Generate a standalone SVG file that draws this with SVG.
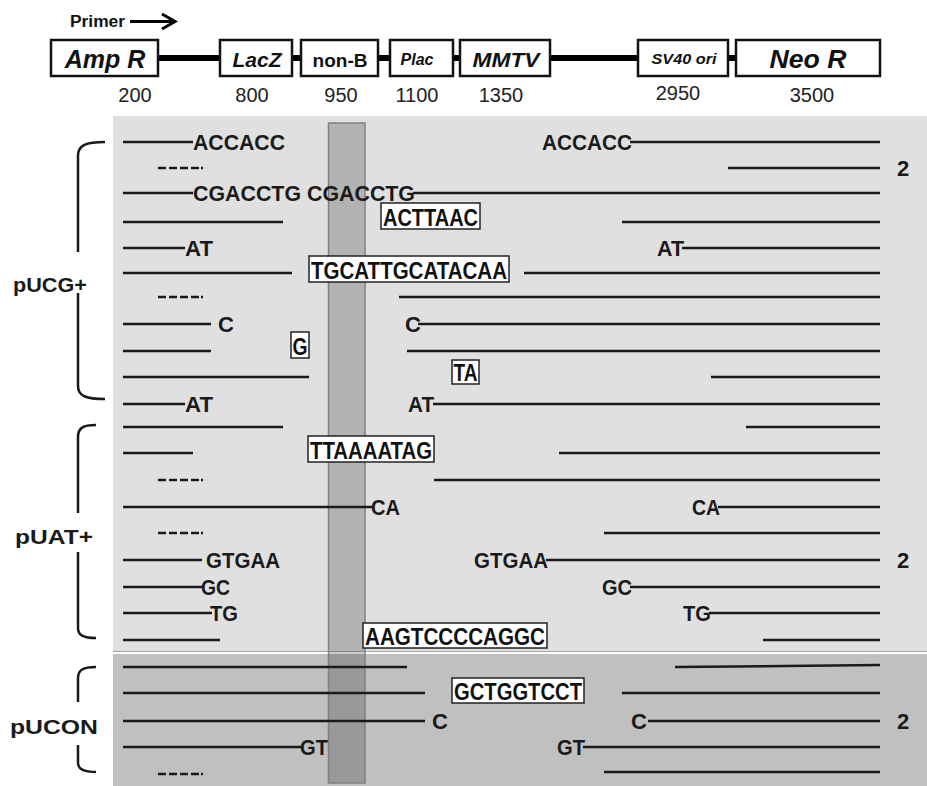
<svg xmlns="http://www.w3.org/2000/svg" width="927" height="786" viewBox="0 0 927 786">
<style>
.bx{fill:#fff;stroke:#111;stroke-width:2.5}
.ln{stroke:#1a1a1a;stroke-width:2.5;fill:none}
.th{stroke:#000;stroke-width:6;fill:none}
.sq{font-family:"Liberation Sans",Arial,sans-serif;font-weight:bold;font-size:22px;fill:#1a1a1a}
.bt{font-family:"Liberation Sans",Arial,sans-serif;font-weight:bold;font-size:23px;fill:#111}
.sb{fill:#fff;stroke:#222;stroke-width:1.5}
.num{font-family:"Liberation Sans",Arial,sans-serif;font-size:20px;fill:#222;text-anchor:middle}
.hl{font-family:"Liberation Sans",Arial,sans-serif;font-weight:bold;font-style:italic;fill:#111;text-anchor:middle}
.grp{font-family:"Liberation Sans",Arial,sans-serif;font-weight:bold;font-size:21px;fill:#1a1a1a;text-anchor:middle}
.br{stroke:#1a1a1a;stroke-width:2.5;fill:none}
</style>
<rect width="927" height="786" fill="#fff"/>
<!-- panels -->
<rect x="113" y="116" width="814" height="535" fill="#e0e0e0"/>
<line x1="113" y1="651.5" x2="927" y2="651.5" stroke="#a8a8a8" stroke-width="1"/>
<rect x="113" y="654" width="814" height="132" fill="#c0c0c0"/>
<rect x="328.5" y="123" width="36.5" height="660" fill="#000" fill-opacity="0.2" stroke="#808080" stroke-width="1.5"/>

<!-- header -->
<g id="primer">
<text x="70" y="27" font-family="Liberation Sans,Arial,sans-serif" font-weight="bold" font-size="16" fill="#111" textLength="55" lengthAdjust="spacingAndGlyphs">Primer</text>
<line x1="130" y1="21.5" x2="172" y2="21.5" stroke="#000" stroke-width="3"/>
<polyline points="162,14 175,21.5 162,29" stroke="#000" stroke-width="3" fill="none"/>
</g>
<g id="connectors">
<line class="th" x1="158" y1="58" x2="220" y2="58"/>
<line class="th" x1="292" y1="58" x2="301" y2="58"/>
<line class="th" x1="378" y1="58" x2="390" y2="58"/>
<line class="th" x1="453" y1="58" x2="460" y2="58"/>
<line class="th" x1="550" y1="58" x2="638" y2="58"/>
<line class="th" x1="728" y1="58" x2="736" y2="58"/>
</g>
<g id="ampR"><rect class="bx" x="51" y="40" width="107" height="36"/><text class="hl" x="105" y="68" font-size="25">Amp R</text><text class="num" x="135" y="102">200</text></g>
<g id="lacZ"><rect class="bx" x="220" y="40" width="72" height="36"/><text class="hl" x="257" y="67" font-size="21">LacZ</text><text class="num" x="252" y="102">800</text></g>
<g id="nonB"><rect class="bx" x="301" y="40" width="77" height="36"/><text x="340" y="67" font-family="Liberation Sans,Arial,sans-serif" font-weight="bold" font-size="19" fill="#111" text-anchor="middle">non-B</text><text class="num" x="341" y="102">950</text></g>
<g id="plac"><rect class="bx" x="390" y="40" width="63" height="36"/><text class="hl" x="417" y="65" font-size="16">Plac</text><text class="num" x="417" y="102">1100</text></g>
<g id="mmtv"><rect class="bx" x="460" y="40" width="90" height="36"/><text class="hl" x="506" y="67" font-size="20" textLength="67" lengthAdjust="spacingAndGlyphs">MMTV</text><text class="num" x="501" y="102">1350</text></g>
<g id="sv40"><rect class="bx" x="638" y="40" width="90" height="36"/><text class="hl" x="684" y="64" font-size="15" textLength="65" lengthAdjust="spacingAndGlyphs">SV40 ori</text><text class="num" x="678" y="100">2950</text></g>
<g id="neoR"><rect class="bx" x="736" y="40" width="144" height="36"/><text class="hl" x="808" y="68" font-size="25" textLength="77" lengthAdjust="spacingAndGlyphs">Neo R</text><text class="num" x="812" y="102">3500</text></g>

<!-- brackets -->
<g id="pUCG">
<path class="br" d="M105,142 C86,142 78,145 78,156 V252 M78,293 V386 C78,396 86,399 105,399"/>
<text class="grp" x="50" y="292" textLength="74" lengthAdjust="spacingAndGlyphs">pUCG+</text>
</g>
<g id="pUAT">
<path class="br" d="M96,425 C83,425 78,428 78,437 V513 M78,552 V628 C78,635 83,638 96,638"/>
<text class="grp" x="54" y="544" textLength="78" lengthAdjust="spacingAndGlyphs">pUAT+</text>
</g>
<g id="pUCON">
<path class="br" d="M96,667 C83,667 78,670 78,678 V702 M78,745 V763 C78,769 83,772 96,772"/>
<text class="grp" x="54" y="734" textLength="88" lengthAdjust="spacingAndGlyphs">pUCON</text>
</g>

<!-- rows -->
<g id="row1"><line class="ln" x1="123" y1="142" x2="193" y2="142"/><text class="sq" x="193" y="150" textLength="92" lengthAdjust="spacingAndGlyphs">ACCACC</text><text class="sq" x="632" y="150" text-anchor="end" textLength="90" lengthAdjust="spacingAndGlyphs">ACCACC</text><line class="ln" x1="630" y1="142" x2="880" y2="142"/></g>
<g id="row2"><path class="ln" d="M158,168H166M169,168H177M180,168H188M191,168H199M201,168H203"/><line class="ln" x1="728" y1="168" x2="880" y2="168"/><text class="sq" x="897" y="176" font-size="19">2</text></g>
<g id="row3"><line class="ln" x1="123" y1="193" x2="193" y2="193"/><text class="sq" x="193" y="201" textLength="222" lengthAdjust="spacingAndGlyphs">CGACCTG CGACCTG</text><line class="ln" x1="413" y1="193" x2="880" y2="193"/></g>
<g id="row4"><line class="ln" x1="123" y1="222" x2="283" y2="222"/><rect class="sb" x="381" y="203" width="99" height="26"/><text class="bt" x="430.5" y="226" text-anchor="middle" textLength="95" lengthAdjust="spacingAndGlyphs">ACTTAAC</text><line class="ln" x1="622" y1="222" x2="880" y2="222"/></g>
<g id="row5"><line class="ln" x1="123" y1="248" x2="185" y2="248"/><text class="sq" x="185" y="256" textLength="28" lengthAdjust="spacingAndGlyphs">AT</text><text class="sq" x="684" y="256" text-anchor="end" textLength="27" lengthAdjust="spacingAndGlyphs">AT</text><line class="ln" x1="682" y1="248" x2="880" y2="248"/></g>
<g id="row6"><line class="ln" x1="123" y1="273" x2="292" y2="273"/><rect class="sb" x="309" y="256" width="200" height="26"/><text class="bt" x="409" y="279" text-anchor="middle" textLength="196" lengthAdjust="spacingAndGlyphs">TGCATTGCATACAA</text><line class="ln" x1="524" y1="273" x2="880" y2="273"/></g>
<g id="row7"><path class="ln" d="M158,297H166M169,297H177M180,297H188M191,297H199M201,297H203"/><line class="ln" x1="399" y1="297" x2="880" y2="297"/></g>
<g id="row8"><line class="ln" x1="123" y1="324" x2="211" y2="324"/><text class="sq" x="218" y="332">C</text><text class="sq" x="405" y="332">C</text><line class="ln" x1="418" y1="324" x2="880" y2="324"/></g>
<g id="row9"><line class="ln" x1="123" y1="351" x2="211" y2="351"/><rect class="sb" x="291" y="332" width="18" height="26"/><text class="bt" x="300" y="355" text-anchor="middle" textLength="15" lengthAdjust="spacingAndGlyphs">G</text><line class="ln" x1="407" y1="351" x2="880" y2="351"/></g>
<g id="row10"><line class="ln" x1="123" y1="377" x2="309" y2="377"/><rect class="sb" x="452" y="360" width="27" height="24"/><text class="bt" x="465.5" y="381" text-anchor="middle" textLength="24" lengthAdjust="spacingAndGlyphs">TA</text><line class="ln" x1="711" y1="377" x2="880" y2="377"/></g>
<g id="row11"><line class="ln" x1="123" y1="404" x2="185" y2="404"/><text class="sq" x="185" y="412" textLength="28" lengthAdjust="spacingAndGlyphs">AT</text><text class="sq" x="408" y="412" textLength="26" lengthAdjust="spacingAndGlyphs">AT</text><line class="ln" x1="433" y1="404" x2="880" y2="404"/></g>
<g id="row12"><line class="ln" x1="123" y1="427" x2="283" y2="427"/><line class="ln" x1="746" y1="427" x2="880" y2="427"/></g>
<g id="row13"><line class="ln" x1="123" y1="453" x2="193" y2="453"/><rect class="sb" x="308" y="436" width="126" height="26"/><text class="bt" x="371" y="459" text-anchor="middle" textLength="122" lengthAdjust="spacingAndGlyphs">TTAAAATAG</text><line class="ln" x1="559" y1="453" x2="880" y2="453"/></g>
<g id="row14"><path class="ln" d="M158,480H166M169,480H177M180,480H188M191,480H199M201,480H203"/><line class="ln" x1="434" y1="480" x2="880" y2="480"/></g>
<g id="row15"><line class="ln" x1="123" y1="507" x2="372" y2="507"/><text class="sq" x="371" y="515" textLength="29" lengthAdjust="spacingAndGlyphs">CA</text><text class="sq" x="720" y="515" text-anchor="end" textLength="28" lengthAdjust="spacingAndGlyphs">CA</text><line class="ln" x1="718" y1="507" x2="880" y2="507"/></g>
<g id="row16"><path class="ln" d="M158,533H166M169,533H177M180,533H188M191,533H199M201,533H203"/><line class="ln" x1="604" y1="533" x2="880" y2="533"/></g>
<g id="row17"><line class="ln" x1="123" y1="560" x2="202" y2="560"/><text class="sq" x="206" y="568" textLength="74" lengthAdjust="spacingAndGlyphs">GTGAA</text><text class="sq" x="548" y="568" text-anchor="end" textLength="74" lengthAdjust="spacingAndGlyphs">GTGAA</text><line class="ln" x1="546" y1="560" x2="880" y2="560"/><text class="sq" x="897" y="568" font-size="19">2</text></g>
<g id="row18"><line class="ln" x1="123" y1="587" x2="203" y2="587"/><text class="sq" x="201" y="595" textLength="29" lengthAdjust="spacingAndGlyphs">GC</text><text class="sq" x="632" y="595" text-anchor="end" textLength="30" lengthAdjust="spacingAndGlyphs">GC</text><line class="ln" x1="630" y1="587" x2="880" y2="587"/></g>
<g id="row19"><line class="ln" x1="123" y1="613" x2="212" y2="613"/><text class="sq" x="210" y="621" textLength="28" lengthAdjust="spacingAndGlyphs">TG</text><text class="sq" x="711" y="621" text-anchor="end" textLength="28" lengthAdjust="spacingAndGlyphs">TG</text><line class="ln" x1="709" y1="613" x2="880" y2="613"/></g>
<g id="row20"><line class="ln" x1="123" y1="640" x2="220" y2="640"/><rect class="sb" x="363" y="623" width="184" height="25"/><text class="bt" x="455" y="645" text-anchor="middle" textLength="180" lengthAdjust="spacingAndGlyphs">AAGTCCCCAGGC</text><line class="ln" x1="763" y1="640" x2="880" y2="640"/></g>
<g id="row21"><line class="ln" x1="123" y1="667" x2="407" y2="667"/><line class="ln" x1="675" y1="667" x2="880" y2="665"/></g>
<g id="row22"><line class="ln" x1="123" y1="693" x2="425" y2="693"/><rect class="sb" x="452" y="678" width="132" height="25"/><text class="bt" x="518" y="700" text-anchor="middle" textLength="128" lengthAdjust="spacingAndGlyphs">GCTGGTCCT</text><line class="ln" x1="622" y1="693" x2="880" y2="693"/></g>
<g id="row23"><line class="ln" x1="123" y1="721" x2="425" y2="721"/><text class="sq" x="432" y="729">C</text><text class="sq" x="631" y="729">C</text><line class="ln" x1="648" y1="721" x2="880" y2="721"/><text class="sq" x="897" y="729" font-size="19">2</text></g>
<g id="row24"><line class="ln" x1="123" y1="747" x2="301" y2="747"/><text class="sq" x="300" y="755" textLength="28" lengthAdjust="spacingAndGlyphs">GT</text><text class="sq" x="585" y="755" text-anchor="end" textLength="28" lengthAdjust="spacingAndGlyphs">GT</text><line class="ln" x1="583" y1="747" x2="880" y2="747"/></g>
<g id="row25"><path class="ln" d="M158,774H166M169,774H177M180,774H188M191,774H199M201,774H203"/><line class="ln" x1="604" y1="772" x2="880" y2="772"/></g>
</svg>
